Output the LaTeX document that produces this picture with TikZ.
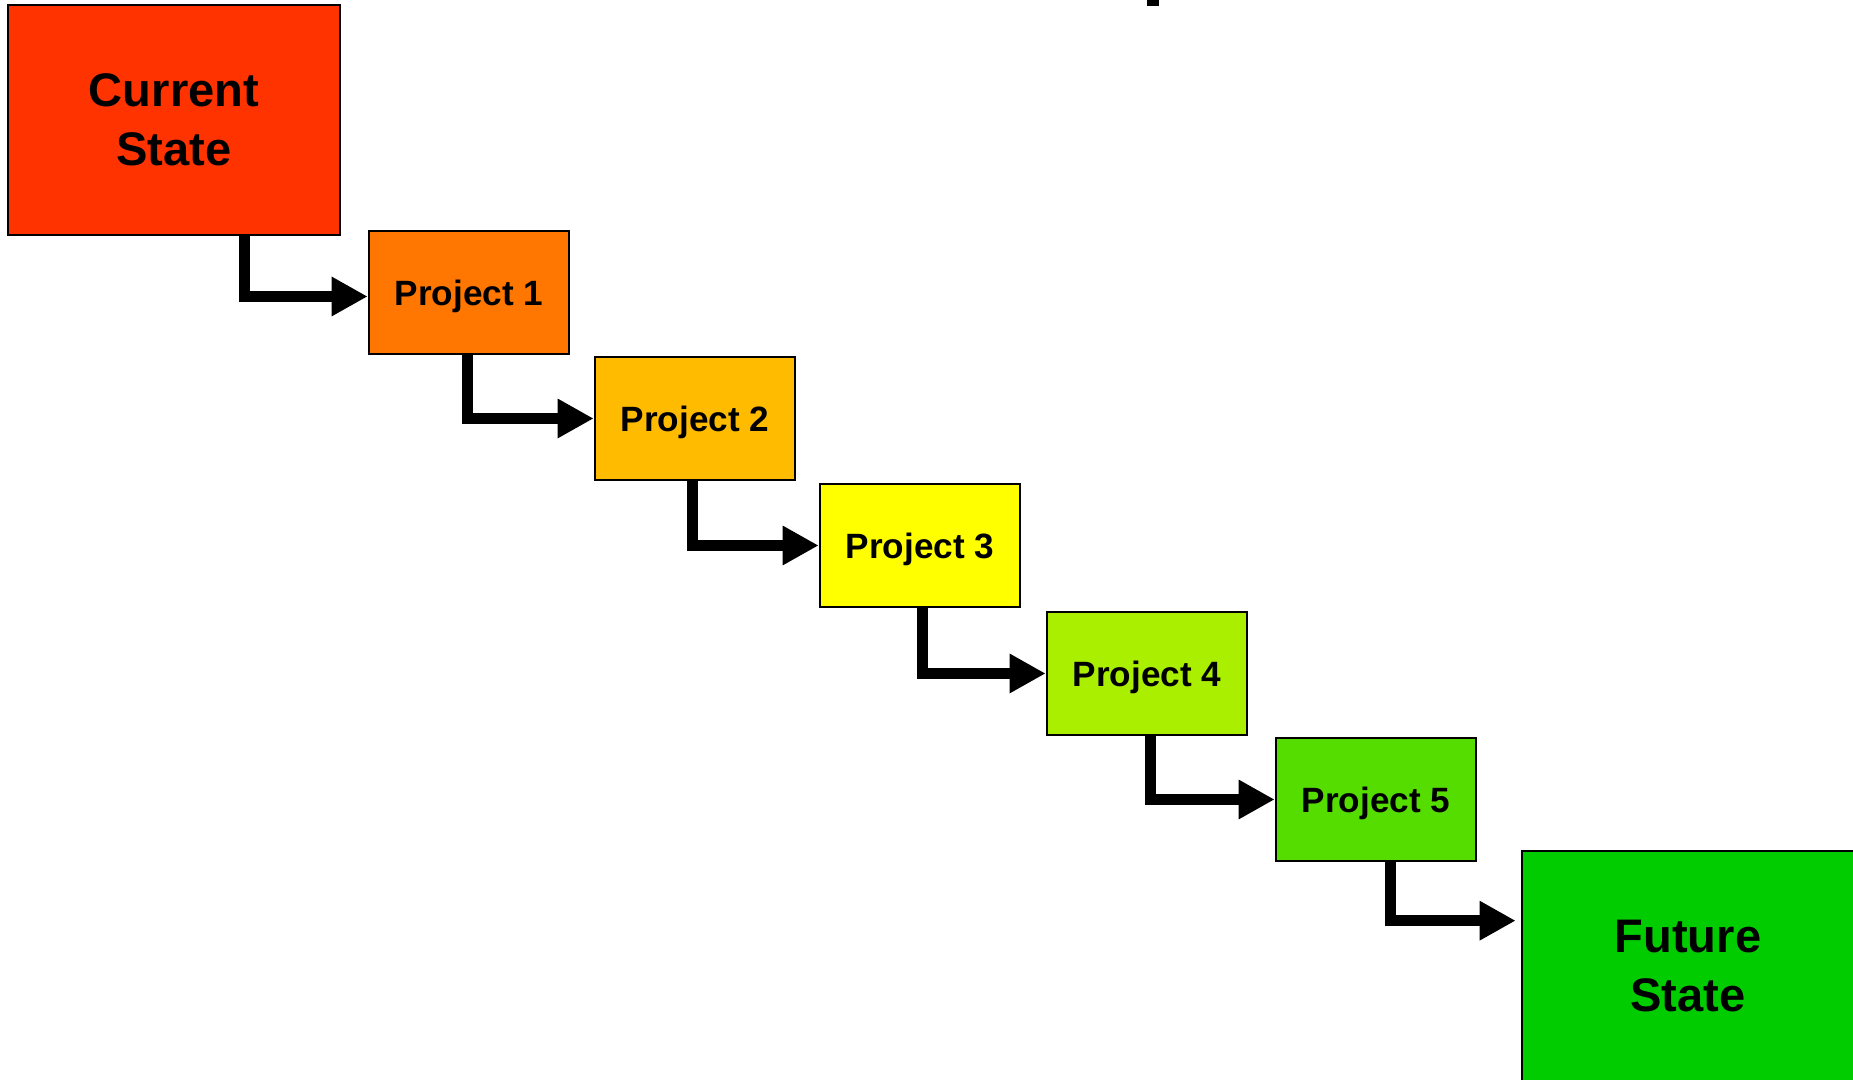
\documentclass[tikz,border=0pt]{standalone}
\usepackage{fontspec}
\setmainfont{Liberation Sans}
\usetikzlibrary{arrows.meta,calc}
\definecolor{curstate}{HTML}{FF3300}
\definecolor{projA}{HTML}{FF7700}
\definecolor{projB}{HTML}{FFBB00}
\definecolor{projC}{HTML}{FFFF00}
\definecolor{projD}{HTML}{AAEE00}
\definecolor{projE}{HTML}{55DD00}
\definecolor{futstate}{HTML}{00CC00}
\tikzset{stage/.style={rectangle,draw=black,line width=0.75pt,inner sep=0pt,minimum width=2cm,minimum height=1.23cm,text depth=0pt,font=\bfseries\fontsize{10}{12}\selectfont},
  state/.style={stage,minimum width=3.32cm,minimum height=2.3cm,align=center,font=\bfseries\fontsize{13.4}{16.8}\selectfont},
  flow/.style={line width=3.1pt,-{Triangle[length=0.36cm,width=0.37cm]}}}

\begin{document}
\begin{tikzpicture}
\clip (0,0) rectangle (18.53,10.80);
\fill[white] (0,0) rectangle (18.53,10.80);
\fill[black] (11.47,10.74) rectangle (11.59,10.80);
\node (cs) at (1.74,9.60) [state,fill=curstate] {Current\\State};
\node (p1) at (4.69,7.875) [stage,fill=projA] {Project 1};
\node (p2) at (6.95,6.615) [stage,fill=projB] {Project 2};
\node (p3) at (9.20,5.345) [stage,fill=projC] {Project 3};
\node (p4) at (11.47,4.065) [stage,fill=projD] {Project 4};
\node (p5) at (13.76,2.805) [stage,fill=projE] {Project 5};
\node (fs) at (16.88,1.14) [state,fill=futstate] {Future\\State};
\coordinate (fsin) at ($(fs.north west)+(-0.05,-0.71)$);
\draw[flow] ([xshift=-1.23cm]p1.west |- cs.south) |- ([yshift=-0.04cm]p1.west);
\draw[flow] ([xshift=-1.26cm]p2.west |- p1.south) |- (p2.west);
\draw[flow] ([xshift=-1.26cm]p3.west |- p2.south) |- (p3.west);
\draw[flow] ([xshift=-1.23cm]p4.west |- p3.south) |- (p4.west);
\draw[flow] ([xshift=-1.24cm]p5.west |- p4.south) |- (p5.west);
\draw[flow] ([xshift=-1.25cm]fsin |- p5.south) |- (fsin);
\end{tikzpicture}
\end{document}
